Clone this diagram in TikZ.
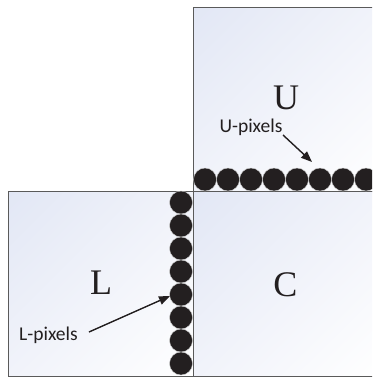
\documentclass[tikz,border=0pt]{standalone}
\usepackage{fontspec}
\setmainfont{Liberation Serif}
\newfontfamily\calib{Carlito}
\usetikzlibrary{arrows.meta,shadings}
\definecolor{boxline}{HTML}{5A5A5A}
\definecolor{pix}{HTML}{231F20}
\definecolor{tint}{HTML}{E2E7F5}
\definecolor{tintmid}{HTML}{F1F3FA}
\tikzset{
  panel/.style={rectangle, anchor=north west, inner sep=0pt, draw=boxline, line width=1.2pt,
    upper left=tint, upper right=tintmid, lower left=tintmid, lower right=white},
  pixel/.style={circle, fill=pix, draw=gray!35, line width=0.4pt, minimum size=23pt, inner sep=0pt},
  big/.style={font=\fontsize{36}{36}\selectfont, text=pix, inner sep=0pt},
  lbl/.style={font=\calib\fontsize{19.5}{19.5}\selectfont, text=pix, inner sep=0pt, anchor=base},
  arr/.style={draw=pix, line width=1.4pt, -{Triangle[length=11pt,width=8.5pt]}}
}
\begin{document}
\begin{tikzpicture}[x=1pt, y=-1pt]
\useasboundingbox (0,0) rectangle (372,380);
\begin{scope}
\clip (0,0) rectangle (372,380);
\node[panel, minimum width=187.5pt, minimum height=184.5pt] (C) at (192.5,191) {};
\node[panel, minimum width=184.5pt, minimum height=184.5pt] (L) at (8,191) {};
\node[panel, minimum width=187.5pt, minimum height=184.5pt] (U) at (192.5,6.5) {};
\foreach \k in {0,...,7} {
  \node[pixel] (Lp\k) at (181, 202.5+23*\k) {};
  \node[pixel] (Up\k) at (205+23*\k, 179.5) {};
}
\node[big] (Ut) at (286,97.5) {U};
\node[big] (Lt) at (101,282.5) {L};
\node[big] (Ct) at (285.5,284.5) {C};
\node[lbl] (Ul) at (251,132) {U-pixels};
\node[lbl] (Ll) at (48.5,340) {L-pixels};
\coordinate (Ua) at (283,135);
\coordinate (Ub) at (312,162);
\coordinate (La) at (89,332);
\coordinate (Lb) at (170,296);
\draw[arr] (Ua) -- (Ub);
\draw[arr] (La) -- (Lb);
\end{scope}
\end{tikzpicture}
\end{document}
